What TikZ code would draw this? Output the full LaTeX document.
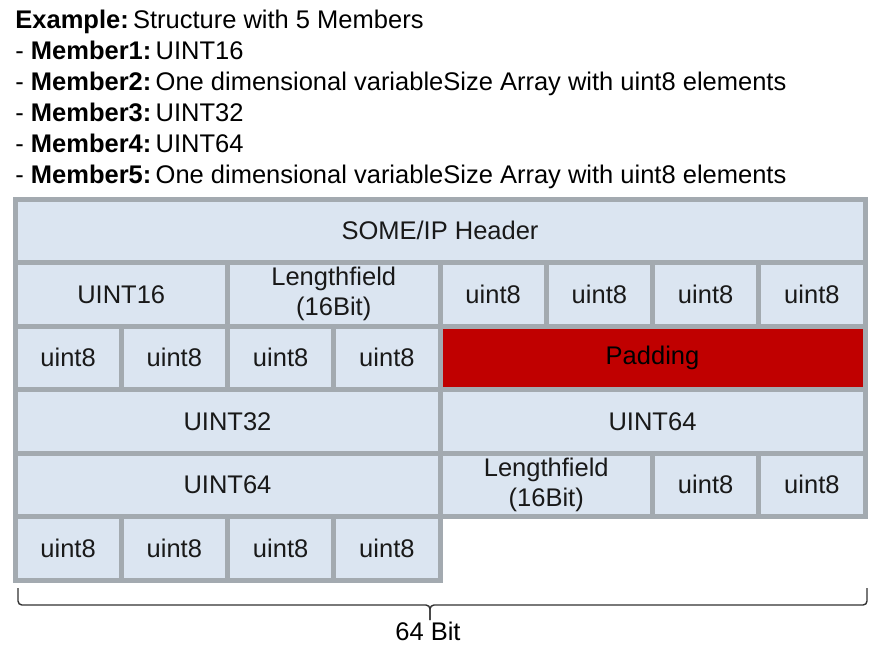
\documentclass[tikz,border=0pt]{standalone}
\usepackage{fontspec}
\setmainfont{Liberation Sans}
\definecolor{cellfill}{RGB}{ 219, 229, 241 }
\definecolor{cellline}{RGB}{ 163, 170, 176 }
\definecolor{padred}{RGB}{ 192, 0, 0 }
\definecolor{bracegray}{RGB}{ 50, 50, 50 }

\begin{document}
\begin{tikzpicture}[x=0.5pt,y=-0.5pt,font=\fontsize{12.75}{15}\selectfont]
\tikzstyle{cell}=[draw=cellline,fill=cellfill,line width=2.5pt,minimum height=31.75pt,inner sep=0pt,align=center,text=black!90]
\tikzstyle{w1}=[cell,minimum width=53.125pt]
\tikzstyle{w2}=[cell,minimum width=106.25pt]
\tikzstyle{w4}=[cell,minimum width=212.5pt]
\tikzstyle{w8}=[cell,minimum width=425pt]
\tikzstyle{info}=[anchor=base west,inner sep=0pt]
\tikzstyle{brace}=[draw=bracegray,line width=0.7pt,rounded corners=2pt]

\fill[white] (0,0) rectangle (881,655);
\useasboundingbox (0,0) rectangle (881,655);

% example description
\node(title)[info] at (15,28) {\textbf{Example:}\,Structure with 5 Members};
\node(m1)[info] at (15,59) {- \textbf{Member1:}\,UINT16};
\node(m2)[info] at (15,90) {- \textbf{Member2:}\,One dimensional variableSize Array with uint8 elements};
\node(m3)[info] at (15,121) {- \textbf{Member3:}\,UINT32};
\node(m4)[info] at (15,152) {- \textbf{Member4:}\,UINT64};
\node(m5)[info] at (15,183) {- \textbf{Member5:}\,One dimensional variableSize Array with uint8 elements};

% row 1
\node(hdr)[w8] at (440,230.75) {SOME/IP Header};
% row 2
\node(u16)[w2] at (121.25,294.25) {UINT16};
\node(len1)[w2] at (333.75,294.25) {Lengthfield\\(16Bit)};
\node(a1)[w1] at (493.125,294.25) {uint8};
\node(a2)[w1] at (599.375,294.25) {uint8};
\node(a3)[w1] at (705.625,294.25) {uint8};
\node(a4)[w1] at (811.875,294.25) {uint8};
% row 3
\node(a5)[w1] at (68.125,357.75) {uint8};
\node(a6)[w1] at (174.375,357.75) {uint8};
\node(a7)[w1] at (280.625,357.75) {uint8};
\node(a8)[w1] at (386.875,357.75) {uint8};
\node(pad)[w4,fill=padred,text=black] at (652.5,357.75) {Padding};
% row 4
\node(u32)[w4] at (227.5,421.25) {UINT32};
\node(u64a)[w4] at (652.5,421.25) {UINT64};
% row 5
\node(u64b)[w4] at (227.5,484.75) {UINT64};
\node(len2)[w2] at (546.25,484.75) {Lengthfield\\(16Bit)};
\node(b1)[w1] at (705.625,484.75) {uint8};
\node(b2)[w1] at (811.875,484.75) {uint8};
% row 6
\node(b3)[w1] at (68.125,548.25) {uint8};
\node(b4)[w1] at (174.375,548.25) {uint8};
\node(b5)[w1] at (280.625,548.25) {uint8};
\node(b6)[w1] at (386.875,548.25) {uint8};

% 64 bit brace
\coordinate(brl) at (18,588);
\coordinate(brr) at (867,588);
\coordinate(brmid) at (430,605);
\coordinate(brtip) at (430,620);
\draw[brace] (brl) |- (brmid) -- (brtip);
\draw[brace] (brr) |- (brmid) -- (brtip);
\node(width) at (428,631) {64 Bit};

\end{tikzpicture}
\end{document}
